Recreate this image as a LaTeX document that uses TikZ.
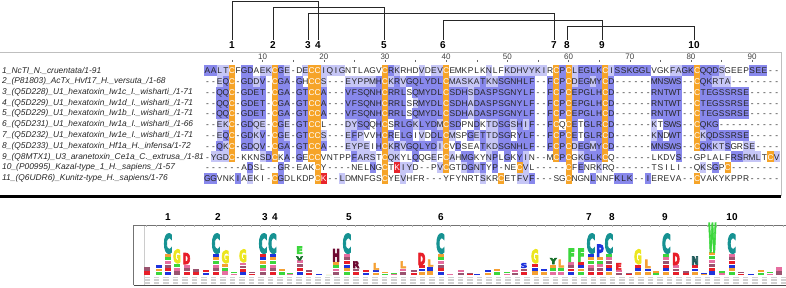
\documentclass[tikz,border=0pt]{standalone}
\usepackage{fontspec}
\setmainfont{Liberation Sans}
\newfontfamily\logofont{DejaVu Sans}[UprightFont={* Bold}]
\usepackage{graphicx}
\usetikzlibrary{positioning}

\definecolor{pidhi}{RGB}{136,136,236}
\definecolor{pidlo}{RGB}{198,198,246}
\definecolor{cysorange}{RGB}{246,164,40}
\definecolor{lysred}{RGB}{232,36,44}
\definecolor{logoteal}{RGB}{22,146,146}
\definecolor{logoyellow}{RGB}{236,230,30}
\definecolor{logored}{RGB}{232,30,40}
\definecolor{logogreen}{RGB}{60,214,60}
\definecolor{logodkgreen}{RGB}{20,110,40}
\definecolor{logomaroon}{RGB}{110,10,50}
\definecolor{logoorange}{RGB}{245,160,50}
\definecolor{logoblue}{RGB}{30,50,220}
\definecolor{logopink}{RGB}{230,110,160}
\definecolor{logonavy}{RGB}{30,90,90}

\tikzset{
  res/.style={inner sep=0pt, minimum width=6.12pt, minimum height=10.77pt,
    text height=6.3pt, text depth=0pt, font=\fontsize{8.4}{9}\selectfont, text=black!85},
  celld/.style={res, fill=pidhi},
  celll/.style={res, fill=pidlo},
  cello/.style={res, fill=cysorange, text=white},
  cellr/.style={res, fill=lysred, text=white},
  cellw/.style={res},
  seqlabel/.style={anchor=west, inner sep=0pt, font=\fontsize{8.4}{9}\itshape, text=black!85},
  rulenum/.style={inner sep=0pt, font=\fontsize{8}{8}\selectfont, text=black!75},
  cysnum/.style={inner sep=1.5pt, font=\fontsize{10}{10}\bfseries},
  bond/.style={draw=black!85, line width=1pt},
  logoletter/.style={anchor=south, inner sep=0pt, font=\logofont}
}

% one alignment row: residues and their shading codes (spaces are skipped)
\newcount\rescol
\newcommand\putrow[3]{%
  \global\rescol=0 %
  \def\rowno{#1}%
  \putres#2\relax#3\relax}
\def\putres#1#2\relax#3#4\relax{%
  \global\advance\rescol by 1 %
  \node[cell#3] (r\rowno-\the\rescol) at ({207.5+(\the\rescol-1)*6.12},{70.7+(\rowno-1)*10.77}) {#1};%
  \ifx\relax#2\relax\else\putres#2\relax#4\relax\fi}

% small mixed stack of the logo
\newcommand\minstack[2]{%
  \pgfmathtruncatemacro\nstk{max(2,round((275-#2)/3.6))}%
  \pgfmathsetmacro\stackh{(275-#2)/\nstk}%
  \foreach \k in {1,...,\nstk}{%
    \pgfmathtruncatemacro\ci{mod(\k+round(#1/9),6)}%
    \ifcase\ci\colorlet{stk}{logored}\or\colorlet{stk}{logoblue}\or
      \colorlet{stk}{logoorange}\or\colorlet{stk}{logogreen}\or\colorlet{stk}{logopink}\or
      \colorlet{stk}{logomaroon!70}\fi
    \fill[stk] ({#1-3},{#2+(\k-1)*\stackh+0.3}) rectangle ({#1+3},{#2+\k*\stackh-0.3});}}

% big letter of the logo (filled and stroked glyph)
\newcommand\bigres[7]{%
  \pgfmathsetmacro\lh{#3-#4}%
  \node[logoletter, text=#5] (#1) at (#2,#3)
    {\resizebox{#7pt}{\lh pt}{\special{pdf:literal direct 2 Tr 0.7 w}#6\special{pdf:literal direct 0 Tr}}};}

\begin{document}
\begin{tikzpicture}[x=1pt, y=-1pt]
\useasboundingbox (0,0) rectangle (786,288);

% cysteine numbers and disulfide bonds
\node[cysnum] (c1) at (232,45) {1};
\node[cysnum] (c2) at (273,45) {2};
\node[cysnum] (c3) at (308,45) {3};
\node[cysnum] (c4) at (318,45) {4};
\node[cysnum] (c5) at (384,45) {5};
\node[cysnum] (c6) at (443,45) {6};
\node[cysnum] (c7) at (554,45) {7};
\node[cysnum] (c8) at (567,45) {8};
\node[cysnum] (c9) at (602,45) {9};
\node[cysnum] (c10) at (694,45) {10};

\coordinate (lvla) at (0,1.5);
\coordinate (lvlb) at (0,7.5);
\coordinate (lvlc) at (0,13.5);
\coordinate (lvld) at (0,20.5);
\coordinate (lvle) at (0,26.5);

\draw[bond] (c1.north) -- (c1.north |- lvla) -- (c4.north |- lvla) -- (c4.north);
\draw[bond] (c2.north) -- (c2.north |- lvlb) -- (c5.north |- lvlb) -- (c5.north);
\draw[bond] (c3.north) -- (c3.north |- lvlc) -- (c7.north |- lvlc) -- (c7.north);
\draw[bond] (c6.north) -- (c6.north |- lvld) -- (c9.north |- lvld) -- (c9.north);
\draw[bond] (c8.north) -- (c8.north |- lvle) -- (c10.north |- lvle) -- (c10.north);

% alignment panel
\draw[black!25] (0,52) -- (781,52) -- (781,196);
\draw[line width=3pt] (0,196.5) -- (781,196.5);

\foreach \n in {10,20,...,90}
  \node[rulenum] (ruler\n) at ({207.5+(\n-1)*6.12},56.5) {\n};
\foreach \n in {5,10,...,90}
  \draw[black!60] ({207.5+(\n-1)*6.12},60) -- ++(0,2.5);

\node[seqlabel] (lab1) at (2,70.7) {1\_NcTI\_N.\_cruentata/1-91};
\node[seqlabel] (lab2) at (2,81.47) {2\_(P81803)\_AcTx\_Hvf17\_H.\_versuta\_/1-68};
\node[seqlabel] (lab3) at (2,92.24) {3\_(Q5D228)\_U1\_hexatoxin\_Iw1c\_I.\_wisharti\_/1-71};
\node[seqlabel] (lab4) at (2,103.01) {4\_(Q5D229)\_U1\_hexatoxin\_Iw1d\_I.\_wisharti\_/1-71};
\node[seqlabel] (lab5) at (2,113.78) {5\_(Q5D229)\_U1\_hexatoxin\_Iw1b\_I.\_wisharti\_/1-71};
\node[seqlabel] (lab6) at (2,124.55) {6\_(Q5D231)\_U1\_hexatoxin\_Iw1a\_I.\_wisharti\_/1-66};
\node[seqlabel] (lab7) at (2,135.32) {7\_(Q5D232)\_U1\_hexatoxin\_Iw1e\_I.\_wisharti\_/1-71};
\node[seqlabel] (lab8) at (2,146.09) {8\_(Q5D233)\_U1\_hexatoxin\_Hf1a\_H.\_infensa/1-72};
\node[seqlabel] (lab9) at (2,156.86) {9\_(Q8MTX1)\_U3\_aranetoxin\_Ce1a\_C.\_extrusa\_/1-81};
\node[seqlabel] (lab10) at (2,167.63) {10\_(P00995)\_Kazal-type\_1\_H.\_sapiens\_/1-57};
\node[seqlabel] (lab11) at (2,178.4) {11\_(Q6UDR6)\_Kunitz-type\_H.\_sapiens/1-76};

\putrow{1}{AALTCFGDAE KCGE-DECCI QIGNTLAGVC RKRHDVDEVC EMKPLKNLFK DHVYKIRCPC LEGLKCISSK GGLVGKFAGK CQQDSGEEPS EE--}
  {ddllowddwl lodlwwlool lllwwwwwwo dlwwwlwllo wwwwwwlwwl llllllwodo lddddolddd dddwwwlldd odddlwwwwd ddww}
\putrow{2}{--EQC-GDDV -CGA-GHCCS ---EYPPMHC KRVGQLYDLC MASKATKNSG NHLF--FCPC DEGMYCD--- ---MNSWS-- CQKRTA---- ----}
  {wwldowddld woddwdwool wwwllllldo ldlddddddo llllldlldd ddddwwdodo lddldodwww wwwdddddww oddlllwwww wwww}
\putrow{3}{--QQC-GDET -CGA-GTCCA ---VFSQNHC RRLSQMYDLC SDHSDASPSG NYLF--FCPC EPGLHCD--- ---RNTWT-- CTEGSSRSE- ----}
  {wwddowdddd woddwddood wwwddddddo dddwdddddo dddldddddd ddddwwdodo dddddodwww wwwdddddww oddddddddw wwww}
\putrow{4}{--QQC-GDET -CGA-GTCCA ---VFSQNHC RRLSRMYDLC SDHADASPSG NYLF--FCPC EPGLHCD--- ---RNTWT-- CTEGSSRSE- ----}
  {wwddowdddd woddwddood wwwddddddo dddwlddddo dddldddddd ddddwwdodo dddddodwww wwwdddddww oddddddddw wwww}
\putrow{5}{--QQC-GDET -CGA-GTCCA ---VFSQNHC RRLSQMYDLC SDHADASPSG NYLF--FCPC EPGLHCD--- ---RNTWT-- CTEGSSRSE- ----}
  {wwddowdddd woddwddood wwwddddddo dddwdddddo dddldddddd ddddwwdodo dddddodwww wwwdddddww oddddddddw wwww}
\putrow{6}{--EKC-GDQE -CGE-GTCCL ---DYSQQHC SRLGKLYDMC SDPNDKTDSG SHIF--FCQC ETGLRCD--- ---KTSWS-- CQKG------ ----}
  {wwllowddll wodlwddoow wwwllddwdo wdddldddlo ddwwdwlldd ldldwwdowo dwdddodwww wwwlwdddww odddwwwwww wwww}
\putrow{7}{--EQC-GDKV -CGE-GTCCS ---EFPVVHC RELGIVDDLC MSPGETTDSG RYLF--FCPC ETGLRCD--- ---KNDWT-- CKQDSSRSE- ----}
  {wwldowddld wodlwddool wwwldlwwdo dwddwlwddo lwwdldlldd wdddwwdodo dwdddodwww wwwldwddww oldddddddw wwww}
\putrow{8}{--QKC-GDQV -CGA-GTCCA ---EYPEIHC KRVGQLYDIC VDSEATKDSG NHLF--FCPC DEGMYCD--- ---MNSWS-- CQKKTSGRSE ----}
  {wwdlowddld woddwddood wwwllllwdo ldldddddlo wdwwwdlldd ddddwwdodo lddldodwww wwwdddddww oddlldwwll wwww}
\putrow{9}{-YGDC-KKNS DCKA-GECCV NTPPFARSTC QKYLQQGEFC AHMGKYNPLG KYIN--MCPC GKGLKCQ--- ---LKDVS-- GPLALFRSRM LTCV}
  {wlllowwwwl dowdwdwoow wwwwdlllwo llwwdwwlwo lwddwwldwd wdlwwwwodo wldddowwww wwwwwwwdww wwwwwwddll lwol}
\putrow{10}{------ADSL --GR-EAKCY ----NELNGC TKIYD--PVC GTDGNTYP-N ECVL-----C FENRKRQ--- ---TSILI-- QKSGPC---- ----}
  {wwwwwwwdww wwdwwwwwow wwwwwwwdwo wrllwwwwlo wwldldwdww wolwwwwwwo wdwwlwwwww wwwwwwwwww wlwdwowwww wwww}
\putrow{11}{GGVNKIAEKI -CGDLKDPCK --LDMNFGSC YEVHFR---Y FYNRTSKRCE TFVF---SGC NGNLNNFKLK --IEREVA-- CVAKYKPPR- ----}
  {ddwwwdwlww wodwwwwwor wwlwwwwwwo wwlwwwwwww wwwwwlwwow wlldwwwwwo wwwdwwwddd wwdwwwwwww owwwwwwwww wwww}

% logo panel
\node[cysnum] (g1) at (168,217) {1};
\node[cysnum] (g2) at (218,217) {2};
\node[cysnum] (g3) at (265,217) {3};
\node[cysnum] (g4) at (275,217) {4};
\node[cysnum] (g5) at (349,217) {5};
\node[cysnum] (g6) at (441,217) {6};
\node[cysnum] (g7) at (589,217) {7};
\node[cysnum] (g8) at (612,217) {8};
\node[cysnum] (g9) at (665,217) {9};
\node[cysnum] (g10) at (732,217) {10};

\draw[black!55] (133.5,285) -- (133.5,225) -- (790,225);
\draw[black!70, line width=0.8pt] (133.5,285.5) -- (790,285.5);
\draw[black!20] (144,226) -- (144,285);
\foreach \t in {0,...,67}
  \draw[black!30] ({146.5+\t*9.5},225) -- ++(0,2.5);
\foreach \t in {0,...,67}
  \foreach \j in {0,1,2}
    \fill[black!18] ({144+\t*9.5},{276.5+\j*2.8}) rectangle ++(5.5,1.5);

\foreach \x/\t in {147/266.6, 158.5/264.9, 168/253.4, 177/263.3, 186.5/264.2, 196/268.9,
    206/269.9, 216/253.4, 225.4/263.3, 234/271.5, 243/262.3, 252/271.5, 263/253.4,
    272.5/253.4, 281.5/268.2, 290/272.2, 299.5/260, 309/269.9, 319/273.2, 328.7/273.8,
    336/261.6, 347/253.4, 356/268.2, 365.5/269.9, 376/269.9, 385/271.5, 394.4/272.2,
    403/268.2, 413.7/269.9, 421.6/264.9, 430.4/266.6, 440.5/253.4, 450/273.2, 460.5/269.9,
    470/272.2, 477/273.2, 487.7/269.9, 497.4/268.2, 506.6/271.5, 515/269.9, 524/268.2,
    535/263.3, 544/268.2, 553.4/264.2, 561/267.5, 571.4/261.6, 581/261.6, 591/253.4,
    600/256.7, 609/253.4, 618.7/269.9, 628.7/272.2, 638/264.2, 647.6/268.2, 656.4/270.8,
    666.4/253.4, 676/264.9, 685.6/270.8, 695/264.9, 704/272.2, 712.4/251.7, 722/270.8,
    731.7/253.4, 741/271.5, 751/273.2, 761/269.9, 770/271.5, 779/266.6}
  \minstack{\x}{\t};

\bigres{lc1}{168}{253.4}{234.5}{logoteal}{C}{8.5}
\bigres{lg1}{177}{263.3}{250}{logoyellow}{G}{7.5}
\bigres{ld1}{186.5}{264.2}{253.4}{logored}{D}{7.5}
\bigres{lc2}{216}{253.4}{234.5}{logoteal}{C}{8.5}
\bigres{lg2}{225.4}{263.3}{251}{logoyellow}{G}{7.5}
\bigres{lg3}{243}{262.3}{250}{logoyellow}{G}{7.5}
\bigres{lc3}{263}{253.4}{234.5}{logoteal}{C}{8.5}
\bigres{lc4}{272.5}{253.4}{234.5}{logoteal}{C}{8.5}
\bigres{lv1}{299.5}{260.5}{256.5}{logodkgreen}{V}{6.5}
\bigres{le1}{299.5}{254}{246.8}{logogreen}{E}{6.5}
\bigres{lh1}{336}{261.6}{249.4}{logomaroon}{H}{7.5}
\bigres{lc5}{347}{253.4}{234.5}{logoteal}{C}{8.5}
\bigres{lr1}{356}{268.2}{261.6}{logomaroon}{R}{6.5}
\bigres{ll1}{376}{269.9}{263.3}{logoorange}{L}{6}
\bigres{ll2}{403}{268.2}{261.6}{logoorange}{L}{6}
\bigres{ld2}{421.6}{264.9}{253.4}{logored}{D}{7.5}
\bigres{ll3}{430.4}{266.6}{260}{logoorange}{L}{6}
\bigres{lc6}{440.5}{253.4}{234.5}{logoteal}{C}{8.5}
\bigres{ls1}{524}{268.2}{263.3}{logoblue}{S}{6.5}
\bigres{lg4}{535}{263.3}{250}{logoyellow}{G}{7.5}
\bigres{ly1}{553.4}{264.2}{258.3}{logodkgreen}{Y}{6.5}
\bigres{ll4}{561}{267.5}{260}{logoorange}{L}{6}
\bigres{lf1}{571.4}{261.6}{249}{logogreen}{F}{7}
\bigres{lf2}{581}{261.6}{249}{logogreen}{F}{7}
\bigres{lc7}{591}{253.4}{234.5}{logoteal}{C}{8.5}
\bigres{lp1}{600}{256.7}{245}{logoblue}{P}{7.5}
\bigres{lc8}{609}{253.4}{234.5}{logoteal}{C}{8.5}
\bigres{le2}{618.7}{269.9}{263.3}{logored}{E}{6}
\bigres{lg5}{638}{264.2}{250}{logoyellow}{G}{7.5}
\bigres{ll5}{647.6}{268.2}{260}{logoorange}{L}{6}
\bigres{lc9}{666.4}{253.4}{234.5}{logoteal}{C}{8.5}
\bigres{ld3}{676}{264.9}{253.4}{logored}{D}{7.5}
\bigres{ln1}{695}{264.9}{256.7}{logonavy}{N}{7}
\bigres{lw1}{712.4}{251.7}{224}{logogreen}{W}{8}
\bigres{lc10}{731.7}{253.4}{234.5}{logoteal}{C}{8.5}
\end{tikzpicture}
\end{document}
